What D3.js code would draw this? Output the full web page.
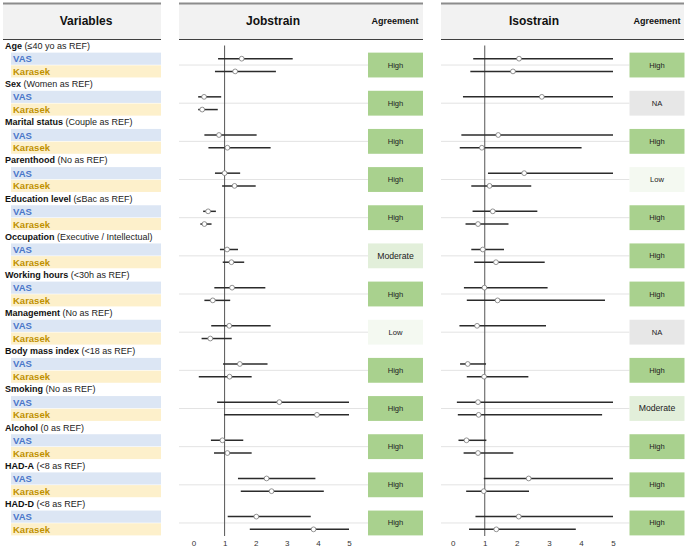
<!DOCTYPE html>
<html>
<head>
<meta charset="utf-8">
<script src="https://cdn.jsdelivr.net/npm/d3@7"></script>
<style>
  body { margin: 0; background: #fff; }
  svg { font-family: "Liberation Sans", Arial, sans-serif; }
</style>
</head>
<body>
<div id="chart"></div>
<script>
// variable titles: bold part + reference part
const varNames = ['Age', 'Sex', 'Marital status', 'Parenthood', 'Education level', 'Occupation',
  'Working hours', 'Management', 'Body mass index', 'Smoking', 'Alcohol', 'HAD-A', 'HAD-D'];
const varRefs = ['(≤40 yo as REF)', '(Women as REF)', '(Couple as REF)', '(No as REF)', '(≤Bac as REF)',
  '(Executive / Intellectual)', '(<30h as REF)', '(No as REF)', '(<18 as REF)', '(No as REF)',
  '(0 as REF)', '(<8 as REF)', '(<8 as REF)'];

// [OR, lower, upper]
const jobVas = [[1.55, 0.79, 3.19], [0.34, 0.15, 0.89], [0.82, 0.35, 2.03], [1.0, 0.69, 1.5],
  [0.47, 0.31, 0.72], [1.08, 0.85, 1.43], [1.24, 0.67, 2.31], [1.15, 0.57, 2.48],
  [1.49, 0.95, 2.38], [2.76, 0.76, 6.5], [0.93, 0.56, 1.6], [2.35, 1.43, 3.92], [2.02, 1.1, 3.77]];
const jobKar = [[1.34, 0.69, 2.65], [0.28, 0.15, 0.78], [1.09, 0.48, 2.48], [1.32, 0.92, 2.0],
  [0.35, 0.22, 0.58], [1.22, 0.94, 1.63], [0.62, 0.35, 1.18], [0.54, 0.26, 1.23],
  [1.16, 0.17, 1.87], [3.97, 0.98, 7.5], [1.09, 0.66, 1.87], [2.51, 1.52, 4.19], [3.86, 1.81, 7.2]];
const isoVas = [[2.07, 0.64, 6.8], [2.78, 0.32, 9.0], [1.42, 0.27, 7.5], [2.23, 1.1, 6.2],
  [1.25, 0.62, 2.64], [0.94, 0.58, 1.6], [0.99, 0.35, 2.96], [0.76, 0.21, 2.91],
  [0.47, 0.23, 1.04], [0.79, 0.13, 5.6], [0.43, 0.18, 1.05], [2.37, 0.97, 6.4], [2.06, 0.71, 7.1]];
const isoKar = [[1.88, 0.55, 6.1], null, [0.91, 0.22, 4.02], [1.15, 0.58, 2.45],
  [0.79, 0.4, 1.74], [1.35, 0.67, 2.87], [1.4, 0.44, 4.75], null,
  [0.98, 0.44, 2.36], [0.81, 0.16, 4.66], [0.79, 0.34, 1.89], [0.97, 0.42, 2.38], [1.36, 0.51, 3.84]];

const jobAgree = ['High', 'High', 'High', 'High', 'High', 'Moderate', 'High', 'Low', 'High', 'High', 'High', 'High', 'High'];
const isoAgree = ['High', 'NA', 'High', 'Low', 'High', 'High', 'High', 'NA', 'High', 'Moderate', 'High', 'High', 'High'];

const ticks = [0, 1, 2, 3, 4, 5];

const agreeColor = { High: '#a9d18e', Moderate: '#e2efda', Low: '#f4f9f1', NA: '#e7e7e7' };

const W = 688, H = 553;
const svg = d3.select('#chart').append('svg').attr('width', W).attr('height', H);

const nRows = varNames.length * 3;
const y = d3.scaleBand().domain(d3.range(nRows)).range([39.6, 535.7]);
const rh = y.bandwidth();

// headers
function header(x0, x1) {
  svg.append('rect').attr('x', x0).attr('y', 3).attr('width', x1 - x0).attr('height', 36).attr('fill', '#f2f2f2');
  svg.append('line').attr('x1', x0).attr('x2', x1).attr('y1', 3.5).attr('y2', 3.5).attr('stroke', '#8c8c8c').attr('stroke-width', 2);
  svg.append('line').attr('x1', x0).attr('x2', x1).attr('y1', 39.5).attr('y2', 39.5).attr('stroke', '#404040').attr('stroke-width', 1);
}
header(3, 161);
header(179, 423);
header(441, 684);

const hText = [['Variables', 86, 12], ['Jobstrain', 273, 12], ['Agreement', 395, 9], ['Isostrain', 534, 12], ['Agreement', 657, 9]];
svg.selectAll('.htext').data(hText).join('text')
  .attr('class', 'htext')
  .attr('x', d => d[1]).attr('y', 21)
  .attr('text-anchor', 'middle').attr('dominant-baseline', 'central')
  .attr('font-weight', 'bold').attr('font-size', d => d[2]).attr('fill', '#111')
  .text(d => d[0]);

// left labels
const left = svg.append('g');
varNames.forEach((name, i) => {
  const r = i * 3;
  const t = left.append('text').attr('x', 5).attr('y', y(r) + rh / 2)
    .attr('dominant-baseline', 'central').attr('font-size', 9).attr('fill', '#111');
  t.append('tspan').attr('font-weight', 'bold').text(name);
  t.append('tspan').attr('fill', '#222').text(' ' + varRefs[i]);

  [['VAS', '#dce6f4', '#4a76c9'], ['Karasek', '#fdf0cb', '#c09000']].forEach((s, k) => {
    const yy = y(r + 1 + k);
    left.append('rect').attr('x', 11).attr('y', yy + 0.3).attr('width', 150).attr('height', rh - 0.6).attr('fill', s[1]);
    left.append('text').attr('x', 13).attr('y', yy + rh / 2)
      .attr('dominant-baseline', 'central').attr('font-size', 9.5).attr('font-weight', 'bold')
      .attr('fill', s[2]).text(s[0]);
  });
});

// forest panel
function panel(x, x0, agreeX, vas, kar, agree) {
  const g = svg.append('g');
  const lo = x.domain()[0], hi = x.domain()[1];

  // separator lines at block center
  varNames.forEach((_, i) => {
    const yy = y(i * 3 + 2);
    g.append('line').attr('x1', x0).attr('x2', agreeX).attr('y1', yy).attr('y2', yy)
      .attr('stroke', '#e3e3e3').attr('stroke-width', 1);
  });

  g.append('line').attr('x1', x(1)).attr('x2', x(1)).attr('y1', 45.5).attr('y2', 536)
    .attr('stroke', '#555').attr('stroke-width', 1);

  const rows = [];
  varNames.forEach((_, i) => {
    if (vas[i]) rows.push({ r: i * 3 + 1, v: vas[i] });
    if (kar[i]) rows.push({ r: i * 3 + 2, v: kar[i] });
  });
  const clamp = v => Math.max(lo, Math.min(hi, v));

  g.selectAll('.ci').data(rows).join('line').attr('class', 'ci')
    .attr('x1', d => x(clamp(d.v[1]))).attr('x2', d => x(clamp(d.v[2])))
    .attr('y1', d => y(d.r) + rh / 2).attr('y2', d => y(d.r) + rh / 2)
    .attr('stroke', '#2b2b2b').attr('stroke-width', 1.5);
  g.selectAll('.pt').data(rows).join('circle').attr('class', 'pt')
    .attr('cx', d => x(d.v[0])).attr('cy', d => y(d.r) + rh / 2).attr('r', 2.4)
    .attr('fill', '#fff').attr('stroke', '#777').attr('stroke-width', 0.8);

  const axis = d3.axisBottom(x).tickValues(ticks).tickFormat(d3.format('d')).tickSize(0).tickPadding(0);
  const ax = g.append('g').attr('transform', 'translate(0,540)').call(axis);
  ax.select('.domain').remove();
  ax.selectAll('text').attr('font-size', 8).attr('fill', '#333').attr('font-family', '"Liberation Sans", Arial, sans-serif');

  // agreement boxes
  agree.forEach((a, i) => {
    const yy = y(i * 3 + 1);
    g.append('rect').attr('x', agreeX).attr('y', yy + 0.3).attr('width', 55).attr('height', rh * 2 - 0.6)
      .attr('fill', agreeColor[a]);
    g.append('text').attr('x', agreeX + 27.5).attr('y', yy + rh)
      .attr('text-anchor', 'middle').attr('dominant-baseline', 'central')
      .attr('font-size', a === 'Moderate' ? 8.7 : 7.6).attr('fill', '#222').text(a);
  });
}

const xJob = d3.scaleLinear().domain([0, 5]).range([193.5, 349]);
const xIso = d3.scaleLinear().domain([0, 5]).range([452.7, 613]);
panel(xJob, 179, 368, jobVas, jobKar, jobAgree);
panel(xIso, 441, 629.5, isoVas, isoKar, isoAgree);
</script>
</body>
</html>
